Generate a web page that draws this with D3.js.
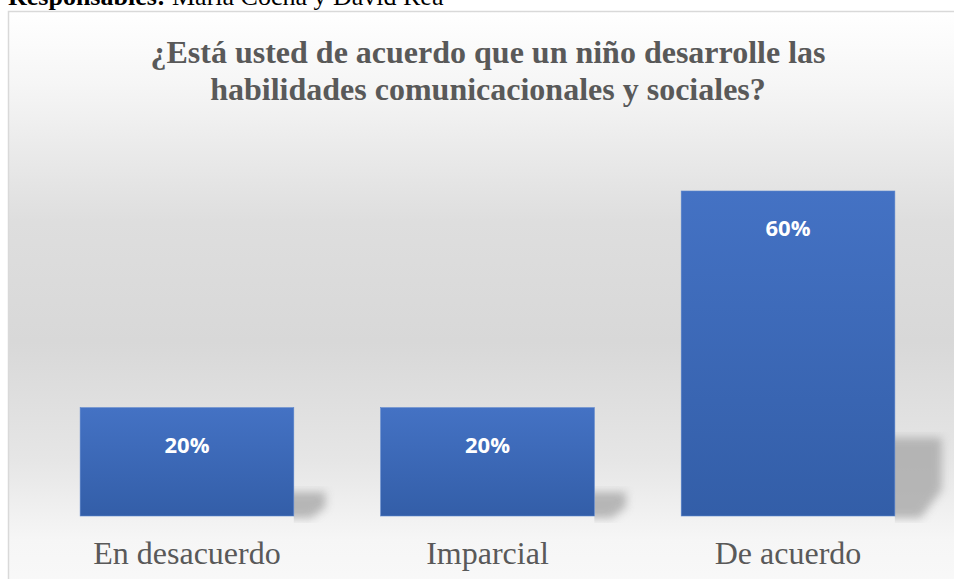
<!DOCTYPE html>
<html><head><meta charset="utf-8">
<script src="https://cdn.jsdelivr.net/npm/d3@7"></script>
<style>html,body{margin:0;padding:0;background:#fff;overflow:hidden}</style>
</head><body>
<svg id="c" width="954" height="579"></svg>
<script>
const categories = ["En desacuerdo", "Imparcial", "De acuerdo"];
const values = [20, 20, 60];
const valueLabels = ["20%", "20%", "60%"];
const titleLines = ["¿Está usted de acuerdo que un niño desarrolle las", "habilidades comunicacionales y sociales?"];

const svg = d3.select("#c");
const defs = svg.append("defs");

const bg = defs.append("linearGradient").attr("id","bg").attr("x1",0).attr("y1",0).attr("x2",0).attr("y2",1);
[[0,"#ffffff"],[0.12,"#f6f6f6"],[0.35,"#dedede"],[0.55,"#d8d8d8"],[0.75,"#e6e6e6"],[0.88,"#f6f6f6"],[1,"#fafafa"]]
  .forEach(([o,c])=>bg.append("stop").attr("offset",o).attr("stop-color",c));

const bar = defs.append("linearGradient").attr("id","bar").attr("x1",0).attr("y1",0).attr("x2",0).attr("y2",1);
bar.append("stop").attr("offset",0).attr("stop-color","#4472c4");
bar.append("stop").attr("offset",1).attr("stop-color","#335ea8");

defs.append("filter").attr("id","blur").attr("x","-50%").attr("y","-50%").attr("width","200%").attr("height","200%")
  .append("feGaussianBlur").attr("stdDeviation",4);

// header text (cut off at top, as in the source page)
const hdr = svg.append("text").attr("x",8).attr("y",5)
  .attr("font-family","Liberation Serif, Times New Roman, serif").attr("font-size",26).attr("fill","#000");
hdr.append("tspan").attr("font-weight","bold").text("Responsables:");
hdr.append("tspan").text(" María Cocha y David Rea");

// frame
svg.append("rect").attr("x",8.5).attr("y",11.5).attr("width",960).attr("height",600)
  .attr("fill","url(#bg)").attr("stroke","#d9d9d9").attr("stroke-width",1.5);

const x = d3.scaleBand().domain(categories).range([5, 970]).paddingInner(0.289).paddingOuter(0.25);
const y = d3.scaleLinear().domain([0, 60]).range([516, 191]);

// shadows
const sh = svg.append("g");
categories.forEach((c,i)=>{
  const x1 = x(c)+x.bandwidth();
  const h = y(0)-y(values[i]);
  const top = y(0) - h*0.25;
  const w = 24 + h*0.07;
  const cp = defs.append("clipPath").attr("id","sc"+i);
  cp.append("rect").attr("x",x1).attr("y",top-3).attr("width",w+20).attr("height",y(0)-top+10);
  sh.append("path").attr("clip-path",`url(#sc${i})`)
    .attr("d",`M${x1-10},${top+3} L${x1+w},${top+3} L${x1+w},${y(0)-h*0.08} L${x1+w*0.55},${y(0)+2} L${x1-10},${y(0)+2} Z`)
    .attr("fill","#a8a8a8").attr("opacity",0.8).attr("filter","url(#blur)");
});

// bars
svg.append("g").selectAll("rect").data(values).join("rect")
  .attr("x",(d,i)=>x(categories[i])).attr("width",x.bandwidth())
  .attr("y",d=>y(d)).attr("height",d=>y(0)-y(d))
  .attr("fill","url(#bar)").attr("stroke","#5b85cc").attr("stroke-width",0.6);

// value labels
svg.append("g").selectAll("text").data(values).join("text")
  .attr("x",(d,i)=>x(categories[i])+x.bandwidth()/2).attr("y",d=>y(d)+45)
  .attr("text-anchor","middle").attr("font-family","Open Sans, Lato, sans-serif")
  .attr("font-weight","bold").attr("font-size",22).attr("fill","#fff")
  .text((d,i)=>valueLabels[i]);

// category axis labels
const xa = svg.append("g").attr("transform",`translate(0,${y(0)})`)
  .call(d3.axisBottom(x).tickSize(0).tickPadding(0));
xa.select(".domain").remove();
xa.selectAll("text").attr("y",48).attr("dy",0)
  .attr("font-family","Liberation Serif, Times New Roman, serif").attr("font-size",32).attr("fill","#595959");

// title
svg.append("g").selectAll("text").data(titleLines).join("text")
  .attr("x",488).attr("y",(d,i)=>63+i*37).attr("text-anchor","middle")
  .attr("font-family","Liberation Serif, Times New Roman, serif").attr("font-weight","bold")
  .attr("font-size",32).attr("fill","#595959").text(d=>d);
</script>
</body></html>
